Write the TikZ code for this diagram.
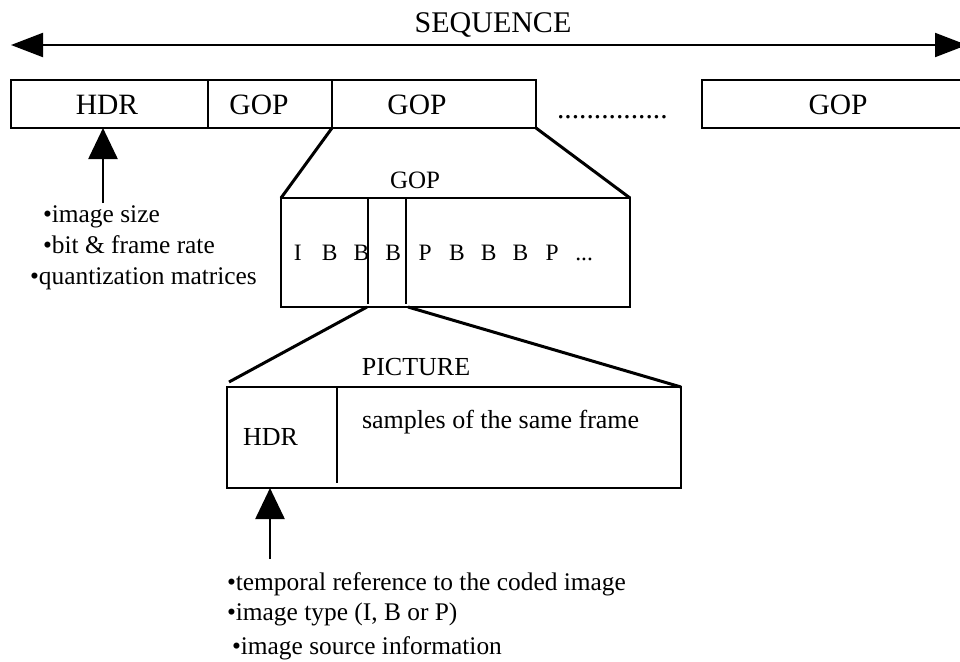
\documentclass[tikz,border=0pt]{standalone}
\usepackage{fontspec}
\setmainfont{Liberation Serif}
\usetikzlibrary{arrows.meta}
% font size helper and fixed-width frame cell
\newcommand\fsz[1]{\fontsize{#1}{#1}\selectfont}
\newcommand\frcell[1]{\makebox[31.8pt]{#1}}

\begin{document}
\begin{tikzpicture}[x=1pt,y=-1pt,
  box/.style={draw, line width=2.6pt, inner sep=0pt, outer sep=0pt},
  zoomline/.style={line width=3pt},
  divider/.style={line width=2.2pt},
  pointer/.style={line width=2.5pt, -{Triangle[length=31pt,width=29pt]}},
  seqline/.style={line width=2pt,
    {Triangle[length=32pt,width=24pt]}-{Triangle[length=32pt,width=24pt]}},
  txt/.style={inner sep=0pt, outer sep=0pt, anchor=base},
  toptext/.style={txt, font=\fsz{29.5}},
  midtext/.style={txt, font=\fsz{25}},
  lowtext/.style={txt, font=\fsz{26}},
  listtext/.style={txt, anchor=base west, font=\fsz{25.4}},
]
\useasboundingbox (0,0) rectangle (960,661);

% ---- sequence level ----
\coordinate (seqL) at (11,45);
\coordinate (seqR) at (967,45);
\draw[seqline] (seqL) -- (seqR);
\node[txt, font=\fsz{30}] (seqlabel) at (493,33) {SEQUENCE};

\node[box, minimum width=197pt, minimum height=48pt] (hdrbox) at (109.5,104) {};
\node[box, minimum width=124pt, minimum height=48pt] (gopA) at (270,104) {};
\node[box, minimum width=204pt, minimum height=48pt] (gopB) at (434,104) {};
\node[box, minimum width=273pt, minimum height=48pt] (gopN) at (838.5,104) {};
\node[toptext] (hdrtxt) at (107,114) {HDR};
\node[toptext] (gopAtxt) at (259,114) {GOP};
\node[toptext] (gopBtxt) at (417,114) {GOP};
\node[toptext] (gopNtxt) at (838,114) {GOP};
\node[toptext, anchor=base west] (dots) at (557,118) {...............};

% sequence header contents
\coordinate (hdrfoot) at (103,203);
\draw[pointer] (hdrfoot) -- (hdrfoot |- hdrbox.south);
\node[listtext] (seqinfoA) at (43,222) {•image size};
\node[listtext] (seqinfoB) at (43,253) {•bit \& frame rate};
\node[listtext] (seqinfoC) at (30,284) {•quantization matrices};

% ---- group of pictures level ----
\node[box, minimum width=349pt, minimum height=109pt] (gopbox) at (455.5,252.5) {};
\node[midtext] (goplabel) at (415,188) {GOP};
\draw[zoomline] (gopB.south west) -- (gopbox.north west);
\draw[zoomline] (gopB.south east) -- (gopbox.north east);
\coordinate (divAtop) at (368,198);
\coordinate (divAbot) at (368,304);
\coordinate (divBtop) at (406,198);
\coordinate (divBbot) at (406,304);
\draw[divider] (divAtop) -- (divAbot);
\draw[divider] (divBtop) -- (divBbot);
\node[txt, anchor=base west, font=\fsz{23.5}] (frames) at (282,260)
  {\frcell{I}\frcell{B}\frcell{B}\frcell{B}\frcell{P}\frcell{B}\frcell{B}\frcell{B}\frcell{P}\frcell{...}};

% ---- picture level ----
\node[box, minimum width=454pt, minimum height=101pt] (pbox) at (454,437.5) {};
\node[lowtext] (piclabel) at (416,375) {PICTURE};
\draw[zoomline] ([xshift=-1pt]divAbot |- gopbox.south) -- ([shift={(2,-5)}]pbox.north west);
\draw[zoomline] ([xshift=2pt]divBbot |- gopbox.south) -- (pbox.north east);
\coordinate (pdivtop) at (337,387);
\coordinate (pdivbot) at (337,483);
\draw[divider] (pdivtop) -- (pdivbot);
\node[lowtext, anchor=base west] (phdr) at (243,445) {HDR};
\node[lowtext, anchor=base west] (psamples) at (362,428) {samples of the same frame};

% picture header contents
\coordinate (pfoot) at (270,559);
\draw[pointer] (pfoot) -- (pfoot |- pbox.south);
\node[listtext] (picinfoA) at (227,590) {•temporal reference to the coded image};
\node[listtext] (picinfoB) at (227,620) {•image type (I, B or P)};
\node[listtext] (picinfoC) at (232,654) {•image source information};
\end{tikzpicture}
\end{document}
